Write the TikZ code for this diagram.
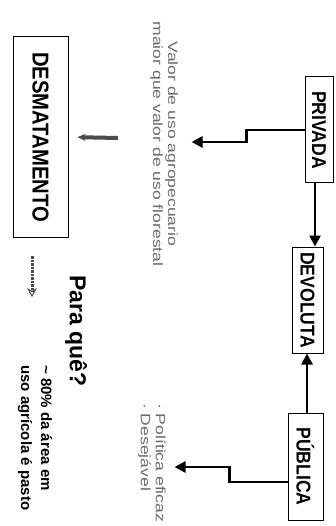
\documentclass[tikz,border=0pt]{standalone}
\usepackage{fontspec}
\setmainfont{Liberation Sans}
\newfontfamily\widefont[FakeStretch=1.3]{Liberation Sans}
\newfontfamily\condfont[FakeStretch=0.88]{Liberation Sans}
\usetikzlibrary{arrows.meta}
\begin{document}
\begin{tikzpicture}[x=1pt,y=-1pt,
  box/.style={draw,line width=1pt,rotate=-90,font=\condfont\bfseries\fontsize{20}{22}\selectfont,inner sep=0pt},
  arr/.style={line width=2.5pt,-{Triangle[length=11pt,width=11pt]}},
  light/.style={rotate=-90,text=black!58,font=\widefont\fontsize{13.5}{15}\selectfont,inner sep=0pt},
  boldtxt/.style={rotate=-90,font=\bfseries\fontsize{15}{20}\selectfont,inner sep=0pt}]
\useasboundingbox (0,0) rectangle (335,526);
\node[box,minimum width=106pt,minimum height=28pt] (priv) at (319,130) {PRIVADA};
\node[box,minimum width=106pt,minimum height=31pt] (devo) at (307.5,300) {DEVOLUTA};
\node[box,minimum width=107pt,minimum height=35pt] (pub) at (305.5,466.5) {PÚBLICA};
\node[box,minimum width=200pt,minimum height=55pt,font=\condfont\bfseries\fontsize{23}{25}\selectfont] (desm) at (40.5,137) {DESMATAMENTO};
\coordinate (c315) at (315,0);
\coordinate (c307) at (307,0);
\draw[arr] (c315 |- priv.east) -- (c315 |- devo.west);
\draw[arr] (c307 |- pub.west) -- (c307 |- devo.east);
\draw[arr] (priv.south) -- ++(-58,0) -- ++(0,12) -- ++(-55,0);
\draw[arr] (pub.south) ++(0,15.5) -- ++(-58,0) -- ++(0,-15) -- ++(-55,0);
\node[light,align=center] (valor) at (164,144) {Valor de uso agropecuario\\maior que valor de uso florestal};
\node[light,align=left,anchor=west] (pol) at (152,403) {· Política eficaz\\· Desejável};
\node[boldtxt,font=\bfseries\fontsize{23}{26}\selectfont] (para) at (76,331) {Para quê?};
\node[boldtxt,align=left,anchor=west] (pct) at (35,365) {\textasciitilde{} 80\% da área em\\uso agrícola é pasto};
\coordinate (t1) at (118,138);
\draw[line width=4pt,black!70,shorten >=9pt,-{Stealth[length=8pt,width=7pt]}] (t1) -- (desm.north);
\coordinate (s1) at (32,256);
\coordinate (s2) at (32,297);
\draw[line width=3pt,black!70,dash pattern=on 2.5pt off 1pt,-{Stealth[open,length=9pt,width=10pt,line width=1pt]}] (s1) -- (s2);
\end{tikzpicture}
\end{document}
